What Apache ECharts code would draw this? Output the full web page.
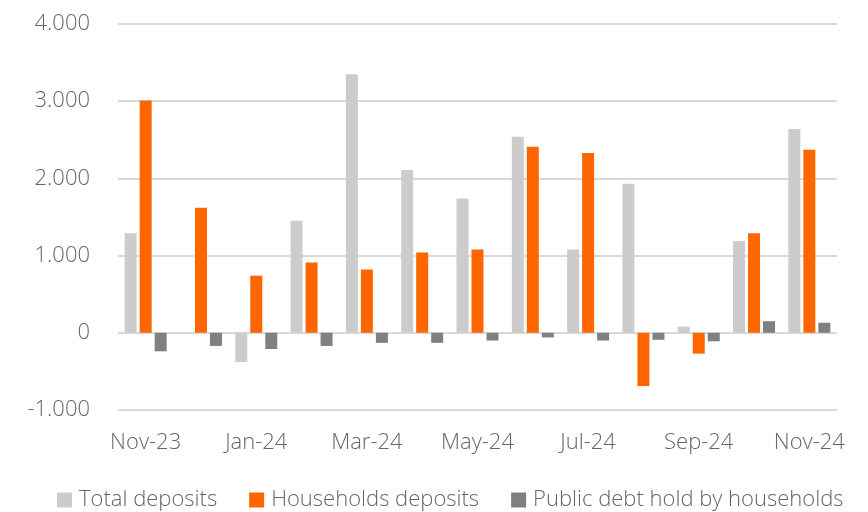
<!DOCTYPE html>
<html>
<head>
<meta charset="utf-8">
<script src="https://cdn.jsdelivr.net/npm/echarts@6/dist/echarts.min.js"></script>
<style>
  html, body { margin: 0; padding: 0; background: #fff; }
  #chart { width: 868px; height: 512px; }
</style>
</head>
<body>
<div id="chart"></div>
<script>
var months = ['Nov-23', 'Dec-23', 'Jan-24', 'Feb-24', 'Mar-24', 'Apr-24', 'May-24',
              'Jun-24', 'Jul-24', 'Aug-24', 'Sep-24', 'Oct-24', 'Nov-24'];
var totalDeposits = [1290, 0, -380, 1450, 3350, 2110, 1740, 2540, 1080, 1930, 80, 1190, 2640];
var householdDeposits = [3010, 1620, 740, 910, 820, 1040, 1080, 2410, 2330, -690, -270, 1290, 2370];
var publicDebt = [-240, -170, -210, -170, -130, -130, -100, -60, -100, -90, -110, 150, 130];

var myChart = echarts.init(document.getElementById('chart'));

var font = 'Open Sans';
var textGrey = '#666666';

// 1234 -> "1.234"
function fmt(v) {
    var s = Math.abs(v).toString().replace(/\B(?=(\d{3})+(?!\d))/g, '.');
    return (v < 0 ? '-' : '') + s;
}

option = {
    animation: false,
    textStyle: { fontFamily: font },
    grid: { left: 118, right: 31, top: 24, bottom: 102 },
    legend: {
        top: 484,
        left: 52,
        itemWidth: 15,
        itemHeight: 15,
        itemGap: 32,
        icon: 'rect',
        textStyle: { color: textGrey, fontSize: 22, fontWeight: 300, fontFamily: font, padding: [0, 0, 0, 2] }
    },
    xAxis: {
        type: 'category',
        data: months,
        axisLine: { show: false },
        axisTick: { show: false },
        axisLabel: {
            interval: 1,
            color: textGrey,
            fontSize: 22,
            fontWeight: 300,
            margin: 22
        }
    },
    yAxis: {
        type: 'value',
        min: -1000,
        max: 4000,
        interval: 1000,
        axisLine: { show: false },
        axisTick: { show: false },
        splitLine: { lineStyle: { color: '#d9d9d9', width: 2 } },
        axisLabel: {
            color: textGrey,
            fontSize: 22,
            fontWeight: 300,
            margin: 28,
            formatter: fmt
        }
    },
    series: [{
        name: 'Total deposits',
        type: 'bar',
        data: totalDeposits,
        barWidth: 12,
        barGap: '25%',
        itemStyle: { color: '#cccccc' }
    }, {
        name: 'Households deposits',
        type: 'bar',
        data: householdDeposits,
        barWidth: 12,
        itemStyle: { color: '#ff6600' }
    }, {
        name: 'Public debt hold by households',
        type: 'bar',
        data: publicDebt,
        barWidth: 12,
        itemStyle: { color: '#808080' }
    }]
};

myChart.setOption(option);
</script>
</body>
</html>
